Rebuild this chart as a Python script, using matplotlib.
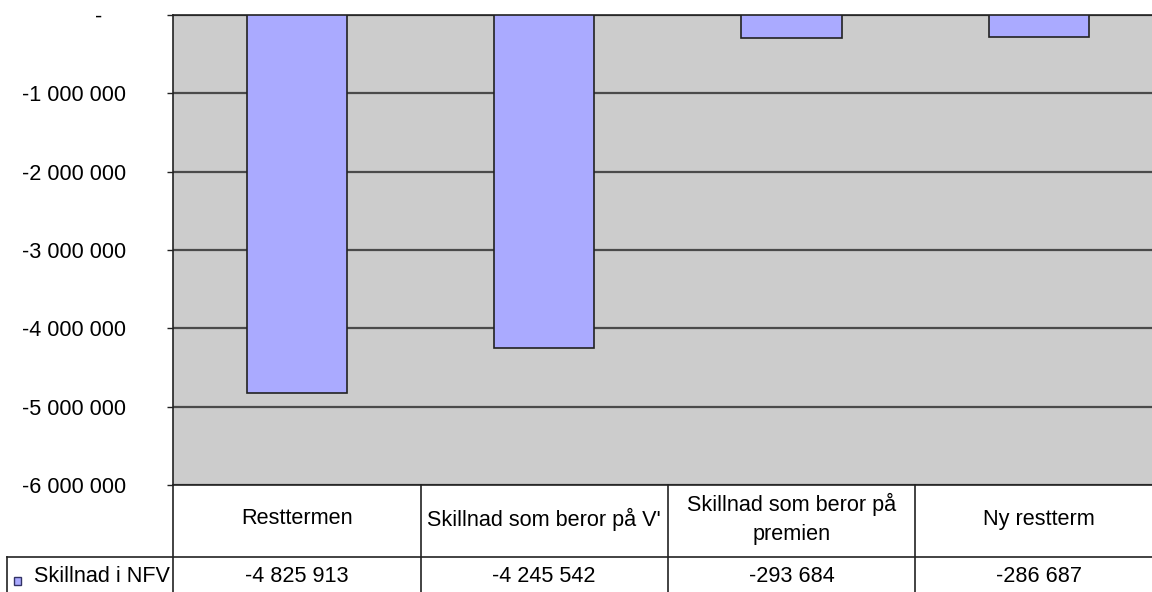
import matplotlib
matplotlib.use("Agg")
import matplotlib.pyplot as plt
from matplotlib.patches import Rectangle
from matplotlib.lines import Line2D
import matplotlib.transforms as mtransforms

plt.rcParams['font.family'] = ['Liberation Sans', 'DejaVu Sans']

categories = ["Resttermen", "Skillnad som beror på V'", "Skillnad som beror på\npremien", "Ny restterm"]
values = [-4825913, -4245542, -293684, -286687]
series_name = "Skillnad i NFV"
y_ticks = [0, -1000000, -2000000, -3000000, -4000000, -5000000, -6000000]

W, H = 1152, 592
FS = 15.6
bar_color = "#AAAAFF"
plot_bg = "#CCCCCC"
line_col = "#222222"


def fmt(v):
    if v == 0:
        return "-    "
    s = f"{abs(v):,}".replace(",", " ")
    return ("-" if v < 0 else "") + s


fig = plt.figure(figsize=(W / 100, H / 100), dpi=100)

left_px, right_px, top_px, bottom_px = 173.3, 1162.5, 15, 485
ax = fig.add_axes([left_px / W, (H - bottom_px) / H,
                   (right_px - left_px) / W, (bottom_px - top_px) / H])
ax.set_facecolor(plot_bg)

x = list(range(len(categories)))
ax.bar(x, values, width=0.405, color=bar_color, edgecolor=line_col, linewidth=1.2, zorder=3)

ax.set_xlim(-0.5, len(categories) - 0.5)
ax.set_ylim(min(y_ticks), max(y_ticks))
ax.set_yticks(y_ticks)
ax.set_yticklabels([fmt(v) for v in y_ticks], fontsize=FS)
ax.yaxis.grid(True, color="#4a4a4a", linewidth=1.6, zorder=1)
ax.set_axisbelow(True)
ax.tick_params(axis="y", length=4.3, width=1, color=line_col, pad=29.5)
ax.tick_params(axis="x", length=0, labelbottom=False)
for side in ("left", "bottom", "top"):
    ax.spines[side].set_color(line_col)
    ax.spines[side].set_linewidth(1.2)
ax.spines["right"].set_visible(False)

# data table underneath the plot area
px_to_fig_y = lambda py: (H - py) / H
trans_x = mtransforms.blended_transform_factory(ax.transData, fig.transFigure)
row1_top, row_split, row2_bot = 485, 557, 593

# vertical column separators
for b in [i + 0.5 for i in range(len(categories) - 1)]:
    fig.add_artist(Line2D([b, b], [px_to_fig_y(row1_top), px_to_fig_y(row2_bot)],
                          transform=trans_x, color=line_col, linewidth=1.2))
# left border of the table continues the axis
fig.add_artist(Line2D([left_px / W, left_px / W], [px_to_fig_y(row1_top), px_to_fig_y(row2_bot)],
                      transform=fig.transFigure, color=line_col, linewidth=1.2))
# horizontal separator between label row and value row
fig.add_artist(Line2D([7.3 / W, 1.0], [px_to_fig_y(row_split)] * 2,
                      transform=fig.transFigure, color=line_col, linewidth=1.2))
# legend cell left border
fig.add_artist(Line2D([7.3 / W, 7.3 / W], [px_to_fig_y(row_split), px_to_fig_y(row2_bot)],
                      transform=fig.transFigure, color=line_col, linewidth=1.2))

for xi, cat, val in zip(x, categories, values):
    fig.text(xi, px_to_fig_y(519), cat, transform=trans_x, ha="center", va="center",
             fontsize=FS, linespacing=1.5)
    fig.text(xi, px_to_fig_y(577), fmt(val), transform=trans_x, ha="center", va="center",
             fontsize=FS)

# legend key in the table's first column
fig.add_artist(Rectangle((13.5 / W, px_to_fig_y(584.5)), 7.5 / W, 7.5 / H,
                         transform=fig.transFigure, facecolor=bar_color,
                         edgecolor="#333366", linewidth=1))
fig.text(34 / W, px_to_fig_y(577), series_name, ha="left", va="center", fontsize=FS)

fig.savefig("out.png", dpi=100)
